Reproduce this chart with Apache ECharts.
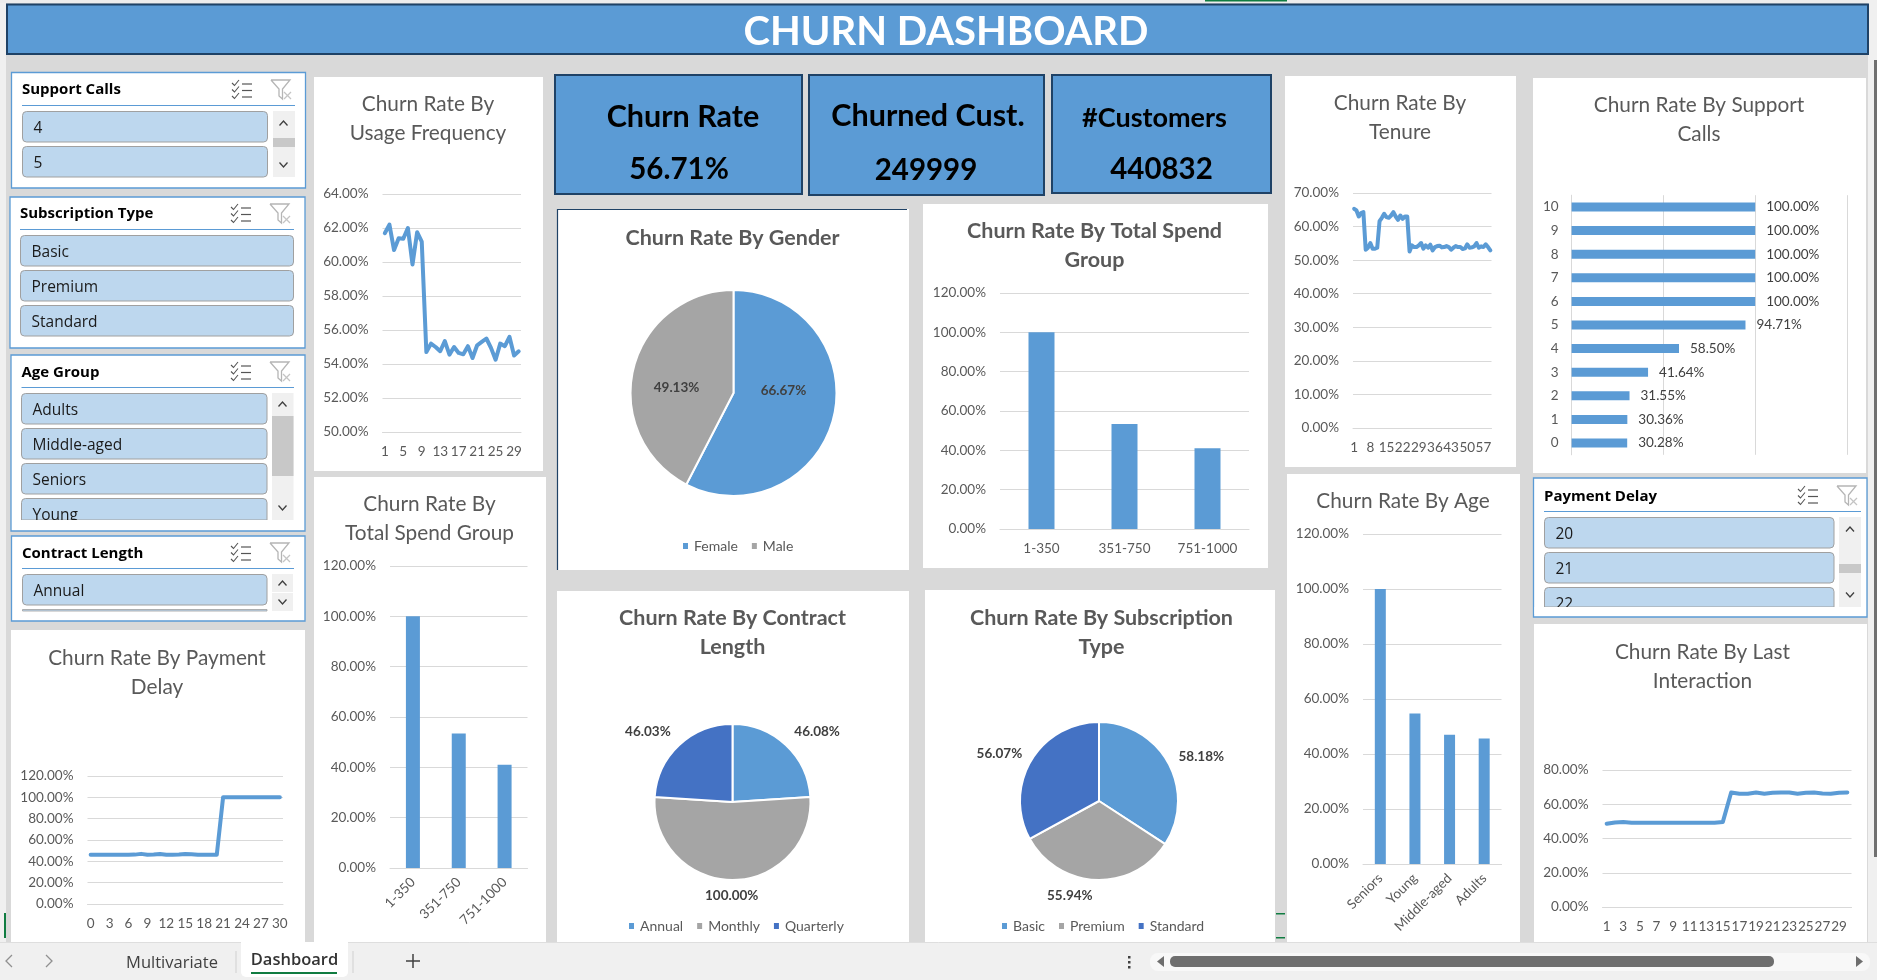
<!DOCTYPE html>
<html><head><meta charset="utf-8">
<style>html,body{margin:0;padding:0;background:#d9d9d9}#c{width:1877px;height:980px}</style>
<script src="https://cdn.jsdelivr.net/npm/echarts@6/dist/echarts.min.js"></script>
</head><body><div id="c"></div>
<script>
// ---------- DATA ----------
const usageCats=[1,2,3,4,5,6,7,8,9,10,11,12,13,14,15,16,17,18,19,20,21,22,23,24,25,26,27,28,29,30];
const usageVals=[61.69,62.2,60.7,61.4,61.37,62.0,59.85,61.75,61.2,54.7,55.2,55.0,54.75,55.35,54.55,55.0,54.65,54.57,55.05,54.35,55.1,55.3,55.5,54.95,54.25,55.2,55.05,55.6,54.5,54.75];
const delayCats=[0,1,2,3,4,5,6,7,8,9,10,11,12,13,14,15,16,17,18,19,20,21,22,23,24,25,26,27,28,29,30];
const delayVals=[46.1,46.2,46.2,46.1,46.1,46.2,46.1,46.3,47,46.2,46.3,46.9,46.2,46.2,46.4,46.9,46.7,46.2,46.2,46.2,46.2,100,100,100,100,100,100,100,100,100,100];
const spendCats=['1-350','351-750','751-1000'];
const spendVals=[100,53.4,41];
const genderCats=['Female','Male'];
const genderVals=[66.67,49.13];
const contractCats=['Annual','Monthly','Quarterly'];
const contractVals=[46.08,100,46.03];
const subCats=['Basic','Premium','Standard'];
const subVals=[58.18,55.94,56.07];
const tenureCats=[1,2,3,4,5,6,7,8,9,10,11,12,13,14,15,16,17,18,19,20,21,22,23,24,25,26,27,28,29,30,31,32,33,34,35,36,37,38,39,40,41,42,43,44,45,46,47,48,49,50,51,52,53,54,55,56,57,58,59,60];
const tenureVals=[65.3,64.8,63,64,64.3,53.1,53.7,55.1,53.4,53.4,53.7,61.6,62.6,63.8,62.8,62.6,63.3,64.3,63,62,63.3,62.3,63,63,52.6,54.4,53.9,53.9,54.4,55.1,53.4,54.4,53.7,54.6,52.9,53.9,54.2,54.3,53.8,53.9,54.2,53.9,53.1,53.7,54.2,53.9,53.9,53.3,53.5,54.7,53.7,53.8,54.1,55.1,53.7,54.1,53.9,54.7,53.9,52.9];
const callCats=['0','1','2','3','4','5','6','7','8','9','10'];
const callVals=[30.28,30.36,31.55,41.64,58.5,94.71,100,100,100,100,100];
const ageCats=['Seniors','Young','Middle-aged','Adults'];
const ageVals=[100,54.7,47,45.6];
const lastCats=[1,2,3,4,5,6,7,8,9,10,11,12,13,14,15,16,17,18,19,20,21,22,23,24,25,26,27,28,29,30];
const lastVals=[48.6,49.4,49.7,49.2,49.2,49.2,49.2,49.2,49.2,49.2,49.2,49.2,49.2,49.2,49.7,66.9,66.1,66.1,66.9,66.1,66.7,66.9,66.9,66.1,66.7,66.9,66.3,66.1,66.7,66.9];
const kpiNames=['Churn Rate','Churned Cust.','#Customers'];
const kpiValues=['56.71%','249999','440832'];
const slicerSupport=['4','5'];
const slicerSub=['Basic','Premium','Standard'];
const slicerAge=['Adults','Middle-aged','Seniors','Young'];
const slicerContract=['Annual'];
const slicerDelay=['20','21','22'];

// ---------- STYLE ----------
const BLUE='#5B9BD5',GREY='#A5A5A5',DBLUE='#4472C4',NAVY='#1F4266',TXT='#595959',GL='#D9D9D9';
const LATO='Lato',UI='"Open Sans"';
const PCT=v=>v.toFixed(2)+'%';
const E=[];
function rect(x0,y0,x1,y1,fill,stroke,lw,r){E.push({type:'rect',shape:{x:x0,y:y0,width:x1-x0,height:y1-y0,r:r||0},style:{fill:fill||'transparent',stroke:stroke||null,lineWidth:lw||0}});}
function line(pts,stroke,lw){E.push({type:'polyline',shape:{points:pts},style:{fill:null,stroke:stroke,lineWidth:lw||1}});}
function text(s,x,y,font,fill,align){E.push({type:'text',style:{text:s,x:x,y:y,font:font,fill:fill,textAlign:align||'left',textVerticalAlign:'middle',align:align||'left',verticalAlign:'middle'}});}
function chevUp(x,y){line([[x-4,y+2.5],[x,y-2],[x+4,y+2.5]],'#404040',1.3);}
function chevDn(x,y){line([[x-4,y-2.5],[x,y+2],[x+4,y-2.5]],'#404040',1.3);}
function icons(lx,fx,y){
  for(let i=0;i<3;i++){
    const yy=y+3+i*6.5;
    line([[lx,yy-1],[lx+2.5,yy+1.5],[lx+7,yy-4]],'#555',1.1);
    line([[lx+10,yy],[lx+20,yy]],'#555',1.2);
  }
  line([[fx,y-1],[fx+19,y-1],[fx+11.5,y+8],[fx+11.5,y+18],[fx+8,y+15],[fx+8,y+8],[fx,y-1]],'#B5B5B5',1.3);
  line([[fx+13,y+11],[fx+20,y+18]],'#C4C4C4',1.2);line([[fx+20,y+11],[fx+13,y+18]],'#C4C4C4',1.2);
}
function slicer(p){
  rect(p.box[0],p.box[1],p.box[2],p.box[3],'#fff',BLUE,1.3);
  text(p.title,p.tx,p.ty,'bold 15px '+UI,'#000');
  line([[p.tx,p.ul],[p.ulEnd,p.ul]],BLUE,1);
  icons(p.lx,p.fx,p.iy);
  p.items.forEach((s,i)=>{
    const y0=p.iy0+i*p.step;
    const h=p.clip?Math.min(p.ih,p.clip-y0):p.ih;
    rect(p.ix0,y0,p.ix1,y0+h,'#BDD7EE','#A0A0A0',1,h<p.ih?[4,4,0,0]:4);
    text(s,p.ix0+11,y0+p.ih/2+1.5,'15.5px '+UI,'#1a1a1a');
  });
  if(p.clip) rect(p.box[0]+1,p.clip,p.box[2]-1,p.clip+7,'#fff');
}

// chrome
rect(0,0,1877,980,'#D9D9D9');
rect(0,0,6,942,'#F0F0F0');rect(0,0,1877,3,'#EDEDED');rect(1868,0,1877,942,'#F0F0F0');
rect(1874,60,1877,857,'#707070');
rect(1205,0,1287,1.5,'#107C41');rect(4,913,6,938,'#107C41');
rect(1276,913,1285,914.5,'#107C41');rect(1276,937,1285,938.5,'#107C41');
rect(7,4.5,1868,54,BLUE,NAVY,2);
text('CHURN DASHBOARD',946,32,'bold 40px '+LATO,'#fff','center');

// white panels
[[314,77,543,471],[314,477,546,942],[557,209,909,570],[923,204,1268,568],[557,591,909,942],[925,590,1275,942],[1285,76,1516,467],[1533,78,1866,473],[1287,474,1520,942],[1534,624,1867,942],[11,630,305,942]].forEach(b=>rect(b[0],b[1],b[2],b[3],'#fff'));
line([[557.5,570],[557.5,209.5],[907,209.5]],NAVY,1.2);

// KPI cards
[[555,75,802,194],[809,75,1044,195],[1052,75,1271,193]].forEach(b=>rect(b[0],b[1],b[2],b[3],BLUE,NAVY,2));
text(kpiNames[0],683,117,'bold 30.5px '+LATO,'#000','center');
text(kpiValues[0],679,169,'bold 29.5px '+LATO,'#000','center');
text(kpiNames[1],928,116,'bold 30.5px '+LATO,'#000','center');
text(kpiValues[1],926,170,'bold 29.5px '+LATO,'#000','center');
text(kpiNames[2],1154.5,118,'bold 27px '+LATO,'#000','center');
text(kpiValues[2],1161.5,169,'bold 29.5px '+LATO,'#000','center');

// slicers
slicer({box:[11.5,72.5,305.5,188],title:'Support Calls',tx:22,ty:90,ul:105.5,ulEnd:295,lx:232,fx:271,iy:81,items:slicerSupport,ix0:22.5,ix1:267.5,iy0:111.5,step:35,ih:30.5});
rect(273,111,295,177,'#F0F0F0');rect(273,138,295,147,'#C8C8C8');chevUp(283.5,123);chevDn(283.5,165);
slicer({box:[10,197,305,348],title:'Subscription Type',tx:20,ty:214,ul:229.5,ulEnd:294,lx:231,fx:270,iy:205,items:slicerSub,ix0:20.5,ix1:293.5,iy0:235.5,step:35,ih:30.5});
slicer({box:[11,355,305,531],title:'Age Group',tx:21.5,ty:373,ul:387.5,ulEnd:294,lx:231,fx:270,iy:363,items:slicerAge,ix0:21.5,ix1:267,iy0:393.5,step:35,ih:30.5,clip:520});
rect(272,393,293.5,520,'#F0F0F0');rect(272,416,293.5,476,'#C8C8C8');chevUp(282.5,404);chevDn(282.5,508);
slicer({box:[11.5,536,305,621],title:'Contract Length',tx:22,ty:554,ul:568.5,ulEnd:294,lx:231,fx:270,iy:544,items:slicerContract,ix0:22.5,ix1:267,iy0:574.5,step:35,ih:30.5});
rect(22.5,609.5,267,611,'#BDD7EE','#A0A0A0',0.8);
rect(272,574,293,592,'#F0F0F0');rect(272,593,293,611,'#F0F0F0');chevUp(282.5,583);chevDn(282.5,602);
slicer({box:[1533.5,478,1867,617],title:'Payment Delay',tx:1544,ty:497,ul:511.5,ulEnd:1861,lx:1798,fx:1837,iy:487,items:slicerDelay,ix0:1544.5,ix1:1834,iy0:517.5,step:35,ih:30.5,clip:607});
rect(1839,517,1861,607,'#F0F0F0');rect(1839,564,1861,573,'#C8C8C8');chevUp(1850,529);chevDn(1850,595);

// sheet tabs bar
rect(0,942,1877,980,'#F0F0F0');line([[0,942.5],[1877,942.5]],'#DEDEDE',1);
rect(241,942,348,977,'#fff',null,0,[0,0,5,5]);
text('Multivariate',172,963,'16.5px '+UI,'#404040','center');
text('Dashboard',294.5,960,'600 16.5px '+UI,'#333','center');
rect(251,972,337,974,'#107C41');
line([[236,951],[236,973]],'#D0D0D0',1);line([[353,951],[353,973]],'#D0D0D0',1);
line([[406,961],[420,961]],'#404040',1.5);line([[413,954],[413,968]],'#404040',1.5);
line([[12,955],[6,961],[12,967]],'#909090',1.3);line([[46,955],[52,961],[46,967]],'#909090',1.3);
rect(1128,956,1130.5,958.5,'#404040');rect(1128,961,1130.5,963.5,'#404040');rect(1128,966,1130.5,968.5,'#404040');
rect(1150,953,1870,971,'#F8F8F8',null,0,8);
rect(1170,956,1774,967,'#6E6E6E',null,0,5);
E.push({type:'polygon',shape:{points:[[1164,956],[1164,967],[1157,961.5]]},style:{fill:'#6E6E6E'}});
E.push({type:'polygon',shape:{points:[[1856,956],[1856,967],[1863,961.5]]},style:{fill:'#6E6E6E'}});
E.forEach((e,i)=>{e.z=-9000+i;e.silent=true;});

// ---------- CHARTS ----------
const titles=[],grids=[],xs=[],ys=[],series=[],legends=[];
const PIE_COLORS=[BLUE,GREY,DBLUE];
function addTitle(t,cx,y,bold){titles.push({text:t,left:cx,top:y,padding:0,textAlign:'center',textStyle:{fontFamily:LATO,fontSize:bold?21.5:20.8,fontWeight:bold?'bold':'normal',color:TXT,lineHeight:29}});}
const axLab={fontFamily:LATO,fontSize:13.5,color:TXT};
function cart(o){
  const i=grids.length;
  grids.push({left:o.x0,top:o.y0,width:o.x1-o.x0,height:o.y1-o.y0});
  xs.push({type:'category',gridIndex:i,data:o.cats,axisTick:{show:false},axisLine:{lineStyle:{color:GL}},
    axisLabel:Object.assign({},axLab,{interval:o.skip||0,rotate:o.rotate||0,margin:o.rotate?12:13,hideOverlap:false}),splitLine:{show:false}});
  ys.push({type:'value',gridIndex:i,min:o.min,max:o.max,interval:o.step,axisLine:{show:false},axisTick:{show:false},
    axisLabel:Object.assign({},axLab,{formatter:PCT,margin:14,padding:[2,0,0,0]}),splitLine:{lineStyle:{color:GL,width:1}}});
  if(o.bar) series.push({type:'bar',xAxisIndex:i,yAxisIndex:i,data:o.vals,barWidth:o.bar,itemStyle:{color:BLUE},silent:true});
  else series.push({type:'line',xAxisIndex:i,yAxisIndex:i,data:o.vals,showSymbol:false,symbol:'none',silent:true,lineStyle:{color:BLUE,width:4,cap:'round',join:'round'}});
}
function pie(o){
  series.push({type:'pie',center:[o.cx,o.cy],radius:o.r,startAngle:90,silent:true,
    data:o.cats.map((c,i)=>({name:c,value:o.vals[i],itemStyle:{color:PIE_COLORS[i]}})),
    itemStyle:{borderColor:'#fff',borderWidth:2},
    label:{show:true,position:o.inside?'inside':'outside',formatter:p=>PCT(p.value),fontFamily:LATO,fontSize:13.5,fontWeight:'bold',color:'#404040'},
    labelLine:{show:false,length:8,length2:6},
    labelLayout:p=>({dx:o.off[p.dataIndex][0],dy:o.off[p.dataIndex][1]}),
    emphasis:{disabled:true}});
  legends.push({data:o.cats,left:o.lx,top:o.ly,icon:'rect',itemWidth:7,itemHeight:8,itemGap:o.gap,selectedMode:false,padding:0,textStyle:{fontFamily:LATO,fontSize:14,color:TXT}});
}
addTitle('Churn Rate By\nUsage Frequency',428,90);
cart({x0:382.5,x1:521,y0:194,y1:432,cats:usageCats,vals:usageVals,min:50,max:64,step:2,skip:3});
addTitle('Churn Rate By Payment\nDelay',157,644);
cart({x0:87.5,x1:283,y0:776,y1:904,cats:delayCats,vals:delayVals,min:0,max:120,step:20,skip:2});
addTitle('Churn Rate By\nTotal Spend Group',429.5,490);
cart({x0:390,x1:527.5,y0:566,y1:868,cats:spendCats,vals:spendVals,min:0,max:120,step:20,bar:14,rotate:45});
addTitle('Churn Rate By Total Spend\nGroup',1094.5,217,true);
cart({x0:1000,x1:1249,y0:293,y1:529,cats:spendCats,vals:spendVals,min:0,max:120,step:20,bar:26});
addTitle('Churn Rate By Gender',732.5,224,true);
pie({cx:733.5,cy:393,r:103,cats:genderCats,vals:genderVals,inside:true,off:[[-3,-15],[-4,7]],lx:681,ly:539,gap:12});
addTitle('Churn Rate By Contract\nLength',732.5,604,true);
pie({cx:732.5,cy:802,r:78,cats:contractCats,vals:contractVals,off:[[-8,-8],[37,8],[8,-8]],lx:627,ly:919,gap:12});
addTitle('Churn Rate By Subscription\nType',1101.5,604,true);
pie({cx:1099,cy:801,r:79,cats:subCats,vals:subVals,off:[[-8,-3],[8,8],[9,-3]],lx:1000,ly:919,gap:12});
addTitle('Churn Rate By\nTenure',1400,89);
cart({x0:1353,x1:1491.5,y0:193,y1:428,cats:tenureCats,vals:tenureVals,min:0,max:70,step:10,skip:6});
addTitle('Churn Rate By Support\nCalls',1699,91);
{
  const i=grids.length;
  grids.push({left:1571.6,top:195.2,width:275.4,height:259.6});
  xs.push({type:'value',gridIndex:i,min:0,max:150,interval:50,axisLabel:{show:false},axisTick:{show:false},axisLine:{show:false},splitLine:{lineStyle:{color:GL}}});
  ys.push({type:'category',gridIndex:i,data:callCats,axisTick:{show:false},axisLine:{lineStyle:{color:GL}},axisLabel:Object.assign({},axLab,{margin:13,interval:0})});
  series.push({type:'bar',xAxisIndex:i,yAxisIndex:i,data:callVals,barWidth:9,silent:true,itemStyle:{color:BLUE},label:{show:true,position:'right',distance:11,formatter:p=>PCT(p.value),fontFamily:LATO,fontSize:13.5,color:'#404040'}});
}
addTitle('Churn Rate By Age',1403,487);
cart({x0:1363,x1:1501.5,y0:534,y1:864,cats:ageCats,vals:ageVals,min:0,max:120,step:20,bar:11,rotate:45});
addTitle('Churn Rate By Last\nInteraction',1702.5,638);
cart({x0:1602.5,x1:1851.5,y0:770,y1:907,cats:lastCats,vals:lastVals,min:0,max:80,step:20,skip:1});

const chart=echarts.init(document.getElementById('c'),null,{renderer:'canvas'});
chart.setOption({animation:false,backgroundColor:'#D9D9D9',title:titles,grid:grids,xAxis:xs,yAxis:ys,series:series,legend:legends,graphic:{elements:E},tooltip:{show:false}});
</script></body></html>
